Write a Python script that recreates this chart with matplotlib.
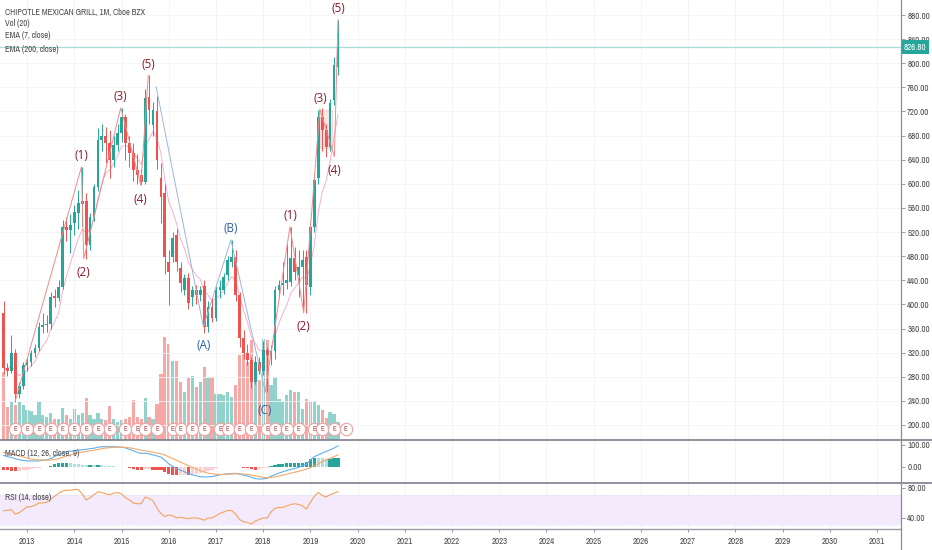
import numpy as np
import pandas as pd
import matplotlib
matplotlib.use("Agg")
import matplotlib.pyplot as plt
from matplotlib.patches import Rectangle
from matplotlib.lines import Line2D
from matplotlib import font_manager

# шрифт: узкий, как на TradingView (если есть), иначе Open Sans
names = [f.name for f in font_manager.fontManager.ttflist]
narrow = [nm for nm in names if 'Narrow' in nm or 'Condensed' in nm]
UI = narrow[0] if narrow else 'Open Sans'
plt.rcParams['font.family'] = [UI, 'DejaVu Sans']

# месячные свечи CMG, 2012-07 .. 2019-08
start_month = '2012-07'
opens = [385, 294, 290, 319, 252, 264, 299, 305, 319, 328,
         363, 366, 368, 414, 410, 429, 528, 523, 535, 552,
         566, 571, 499, 545, 595, 673, 679, 668, 640, 665,
         684, 711, 667, 651, 623, 614, 603, 744, 698, 720,
         610, 585, 470, 479, 515, 460, 424, 444, 412, 424,
         416, 430, 362, 396, 377, 424, 424, 449, 470, 479,
         416, 344, 319, 308, 272, 305, 289, 324, 316, 323,
         424, 432, 435, 437, 477, 449, 462, 479, 429, 528,
         609, 711, 689, 661, 739, 794]
highs = [405, 302, 350, 326, 272, 304, 312, 325, 335, 370,
         385, 382, 420, 425, 440, 540, 545, 550, 565, 590,
         628, 585, 552, 600, 693, 700, 695, 690, 680, 700,
         726, 716, 680, 668, 650, 625, 758, 780, 735, 745,
         634, 600, 490, 520, 525, 470, 450, 452, 430, 432,
         430, 440, 405, 410, 430, 440, 452, 480, 507, 490,
         420, 358, 335, 312, 315, 312, 340, 330, 333, 430,
         440, 470, 500, 528, 495, 490, 490, 490, 535, 612,
         722, 726, 700, 740, 810, 872]
lows = [285, 282, 286, 238, 244, 260, 290, 298, 312, 322,
        352, 355, 360, 395, 405, 425, 505, 485, 515, 525,
        530, 475, 490, 538, 588, 655, 635, 610, 628, 655,
        670, 640, 628, 605, 600, 598, 600, 700, 680, 625,
        535, 450, 399, 470, 455, 420, 415, 392, 398, 400,
        405, 352, 355, 370, 372, 410, 418, 440, 462, 405,
        330, 310, 300, 262, 268, 285, 283, 255, 300, 310,
        410, 415, 425, 430, 440, 412, 394, 386, 415, 520,
        600, 655, 645, 655, 730, 780]
closes = [294, 290, 319, 252, 264, 299, 305, 319, 328, 363,
          366, 368, 412, 410, 429, 528, 523, 532, 553, 568,
          571, 499, 545, 595, 673, 679, 668, 640, 665, 684,
          711, 667, 651, 623, 614, 603, 742, 722, 722, 640,
          578, 479, 454, 510, 470, 435, 444, 402, 424, 416,
          424, 362, 396, 377, 424, 429, 445, 474, 479, 416,
          344, 319, 308, 272, 305, 289, 324, 316, 323, 424,
          432, 435, 440, 477, 454, 462, 474, 432, 528, 606,
          711, 689, 661, 734, 797, 826.8]
volumes = [13.6, 6.6, 7.6, 7.0, 7.6, 7.0, 6.0, 5.8, 5.0, 7.6,
           5.0, 4.6, 5.4, 4.2, 4.2, 6.4, 5.0, 4.2, 6.2, 5.0,
           5.4, 8.4, 5.0, 4.2, 5.4, 4.2, 4.0, 6.8, 4.2, 3.6,
           4.0, 4.2, 4.6, 8.0, 4.6, 4.2, 8.4, 4.6, 4.2, 7.2,
           13.2, 20.6, 19.2, 15.8, 15.8, 11.6, 9.6, 12.6, 12.8, 10.6,
           11.6, 14.6, 12.6, 12.6, 9.2, 9.2, 9.0, 9.6, 8.6, 11.0,
           17.0, 18.0, 15.6, 20.0, 14.0, 12.0, 20.2, 20.0, 11.0, 12.6,
           8.2, 7.6, 9.0, 10.0, 9.6, 9.6, 6.2, 8.2, 7.8, 7.8,
           7.0, 6.0, 4.4, 5.6, 5.2, 3.6]

# индикаторы
macd = [52, 47, 43, 37, 33, 30, 28, 27, 27, 28,
        30, 32, 38, 48, 56, 63, 70, 72, 74, 76,
        78, 80, 83, 85, 90, 92, 92, 92, 92, 91,
        90, 87, 80, 74, 66, 62, 62, 60, 55, 50,
        45, 30, 14, 3, -8, -15, -22, -30, -36, -40,
        -44, -46, -45, -44, -40, -36, -33, -31, -30, -29,
        -33, -37, -41, -47, -53, -55, -54, -52, -42, -35,
        -28, -22, -16, -11, -7, -2, 5, 12, 32, 47,
        55, 63, 70, 78, 86, 96]
signal = [66, 63, 60, 55, 50, 45, 40, 36, 33, 32,
          31, 31, 32, 34, 38, 44, 50, 55, 60, 64,
          67, 70, 73, 76, 79, 83, 86, 88, 89, 90,
          90, 89, 87, 84, 80, 76, 73, 70, 67, 63,
          60, 54, 46, 38, 30, 22, 14, 6, -2, -10,
          -17, -23, -28, -31, -33, -34, -34, -33, -32, -31,
          -31, -32, -34, -37, -40, -44, -47, -49, -48, -45,
          -41, -37, -33, -28, -24, -20, -15, -10, -3, 6,
          15, 24, 32, 40, 47, 55]
rsi = [49.5, 50.5, 51, 45, 47, 51, 55, 55, 57, 60,
       60, 61, 65, 69, 73, 76, 77, 77, 78, 78,
       72, 64, 67, 71, 75, 74, 72, 71, 73, 74,
       72, 67, 64, 60, 59, 59, 68, 66, 63, 53,
       46, 42, 44, 43, 40, 41, 40, 39, 40, 40,
       39, 37, 40, 40, 43, 46, 48, 50, 50, 45,
       38, 35, 34, 32, 36, 38, 40, 40, 48, 53,
       54, 54, 56, 58, 59, 58, 56, 52, 61, 69,
       74, 70, 68, 71, 73, 75]

# отчёты (E)
earnings = ['2012-10', '2013-01', '2013-04', '2013-07', '2013-10', '2014-01', '2014-04',
            '2014-07', '2014-10', '2015-02', '2015-05', '2015-07', '2015-10', '2016-02',
            '2016-04', '2016-07', '2016-10', '2017-02', '2017-04', '2017-07', '2017-10',
            '2018-02', '2018-04', '2018-07', '2018-10', '2019-02', '2019-04', '2019-07',
            '2019-10']

# волны Эллиотта (индекс месяца, цена)
wave1_x = [3, 19.8, 20.4, 29.8, 34.9, 36.8]
wave1_y = [240, 628, 476, 726, 598, 780]
wave1_lab = ['', '(1)', '(2)', '(3)', '(4)', '(5)']
abc_x = [38.8, 50.8, 57.8, 66.5]
abc_y = [761, 363, 507, 255]
abc_lab = ['', '(A)', '(B)', '(C)']
wave2_x = [66.5, 72.8, 76.3, 80.4, 84.1, 85.0]
wave2_y = [255, 529, 386, 724, 645, 872]
wave2_lab = ['', '(1)', '(2)', '(3)', '(4)', '(5)']

last_price = 826.80
years = list(range(2013, 2032))

# ---------------------------------------------------------------
GREEN = '#26a69a'
RED = '#ef5350'
TXT = '#4a4a4a'
LINE = '#8a8e99'

n = len(closes)
x = np.arange(n)
opens_a = np.array(opens, float)
closes_a = np.array(closes, float)
up = closes_a >= opens_a
cols = np.where(up, GREEN, RED)

p0 = pd.Period(start_month, 'M')
def midx(s):
    return (pd.Period(s, 'M') - p0).n

year_pos = [midx(f'{y}-01') for y in years]

W, H = 932, 550
fig = plt.figure(figsize=(W / 100, H / 100), dpi=100)
fig.patch.set_facecolor('white')
right = 901 / W
xlim = (-0.89, 228.1)

# размер шрифта подбираем по ширине подписи на оригинале
def fit_size(text, target_px, base=7.0):
    t = fig.text(0, 0, text, fontsize=base)
    w = t.get_window_extent(renderer=fig.canvas.get_renderer()).width
    t.remove()
    return base * target_px / w

FS_TITLE = fit_size('CHIPOTLE MEXICAN GRILL, 1M, Cboe BZX', 140)
FS_TICK = min(fit_size('880.00', 22), FS_TITLE * 1.05)
FS_LEG = FS_TITLE

def rect(top, bottom):
    return [0, 1 - bottom / H, right, (bottom - top) / H]

def style_axis(a):
    for s in a.spines.values():
        s.set_visible(False)
    a.yaxis.tick_right()
    a.tick_params(axis='y', length=3, width=0.6, color=LINE, labelsize=FS_TICK,
                  labelcolor=TXT, pad=1.5)
    a.tick_params(axis='x', bottom=False, labelbottom=False)
    a.set_xlim(*xlim)
    for yp in year_pos:
        a.axvline(yp, color='#f2f2f5', lw=0.6, zorder=0)

# объём (под свечами)
axv = fig.add_axes(rect(0, 440))
axv.set_xlim(*xlim)
axv.set_ylim(0, 88)
axv.axis('off')
axv.bar(x, volumes, width=0.82, color=cols, alpha=0.5, linewidth=0)

# цена
ax = fig.add_axes(rect(0, 440))
ax.patch.set_alpha(0)
style_axis(ax)
ax.set_ylim(175.1, 904.9)
pt = np.arange(200, 881, 40)
ax.set_yticks(pt)
ax.set_yticklabels([f'{v:.2f}' for v in pt])
for v in pt:
    ax.axhline(v, color='#f4f4f7', lw=0.6, zorder=0)

ax.axhline(last_price, color='#a8dcd6', lw=0.9, zorder=1)

ema7 = pd.Series(closes_a).ewm(span=7, adjust=False).mean()
ax.plot(x, ema7, color='#f48fb1', lw=0.6, alpha=0.8, zorder=2)

ax.vlines(x, lows, highs, color=cols, lw=0.7, zorder=3)
ax.bar(x, closes_a - opens_a, bottom=opens_a, width=0.7, color=cols,
       linewidth=0, zorder=4)

# прямоугольник между (3) и (4)
ax.add_patch(Rectangle((80.5, 659), 3.0, 63, facecolor='#ef9a9a', alpha=0.25,
                       edgecolor='#e57373', lw=0.6, zorder=2))

def draw_wave(xs, ys, labs, lcol, tcol, down_off):
    ax.plot(xs, ys, color=lcol, lw=0.7, zorder=5)
    for i in range(1, len(xs)):
        peak = ys[i] > ys[i - 1]
        off = 11 if peak else -down_off
        ax.annotate(labs[i], (xs[i], ys[i]), xytext=(0, off),
                    textcoords='offset pixels', ha='center', va='center',
                    fontsize=8.5, color=tcol, zorder=6,
                    family=['Open Sans', 'DejaVu Sans'])

draw_wave(wave1_x, wave1_y, wave1_lab, '#ef8a8a', '#8b1a2b', 14)
draw_wave(abc_x, abc_y, abc_lab, '#9fb4d6', '#2f5f9e', 19)
draw_wave(wave2_x, wave2_y, wave2_lab, '#ef8a8a', '#8b1a2b', 14)

# E-кружки
ex = [midx(s) for s in earnings]
xt = ax.get_xaxis_transform()
ax.scatter(ex, [0.025] * len(ex), transform=xt, s=80, facecolor='white',
           edgecolor='#f0a0a0', lw=0.8, zorder=7, clip_on=False)
for e in ex:
    ax.text(e, 0.025, 'E', transform=xt, ha='center', va='center',
            fontsize=5, color='#b03a3a', zorder=8)

# последняя цена
ax.text(1.003, last_price, f'{last_price:.2f}', transform=ax.get_yaxis_transform(),
        ha='left', va='center', fontsize=FS_TICK, color='white', zorder=10, clip_on=False,
        bbox=dict(boxstyle='square,pad=0.3', facecolor=GREEN, edgecolor='none'))

# MACD
axm = fig.add_axes(rect(441, 483))
style_axis(axm)
axm.set_ylim(-73, 118)
axm.set_yticks([0, 100])
axm.set_yticklabels(['0.00', '100.00'])
hist = np.array(macd, float) - np.array(signal, float)
hcols = []
for i, h in enumerate(hist):
    prev = hist[i - 1] if i > 0 else h
    if h >= 0:
        hcols.append('#26a69a' if h >= prev else '#b2dfdb')
    else:
        hcols.append('#ffcdd2' if h > prev else '#ef5350')
axm.bar(x, hist, width=0.82, color=hcols, linewidth=0, zorder=2)
axm.plot(x, macd, color='#5fb0e8', lw=0.8, zorder=3)
axm.plot(x, signal, color='#f5a96a', lw=0.8, zorder=3)

# RSI
axr = fig.add_axes(rect(484, 529))
style_axis(axr)
axr.set_ylim(25.3, 85.3)
axr.set_yticks([40, 80])
axr.set_yticklabels(['40.00', '80.00'])
axr.axhspan(30, 70, color='#f3eafb', zorder=0, lw=0)
axr.axhline(70, color='#d9d0e4', lw=0.5, ls=(0, (1, 2)), zorder=1)
axr.axhline(30, color='#d9d0e4', lw=0.5, ls=(0, (1, 2)), zorder=1)
axr.plot(x, rsi, color='#f6a25e', lw=0.8, zorder=3)
axr.tick_params(axis='x', bottom=True, labelbottom=True, length=2.5, width=0.6,
                color=LINE, labelsize=FS_TICK, labelcolor=TXT, pad=3)
axr.set_xticks(year_pos)
axr.set_xticklabels([str(y) for y in years])

# подписи индикаторов
fig.text(5 / W, 1 - 12 / H, 'CHIPOTLE MEXICAN GRILL, 1M, Cboe BZX', fontsize=FS_TITLE,
         color=TXT, va='center')
for yy, t in [(24, 'Vol (20)'), (36, 'EMA (7, close)'), (49, 'EMA (200, close)')]:
    fig.text(5 / W, 1 - yy / H, t, fontsize=FS_LEG, color=TXT, va='center')
fig.text(5 / W, 1 - 453 / H, 'MACD (12, 26, close, 9)', fontsize=FS_LEG, color=TXT, va='center')
fig.text(5 / W, 1 - 497 / H, 'RSI (14, close)', fontsize=FS_LEG, color=TXT, va='center')

# разделители панелей и ось цен
for yy in (440, 483):
    fig.add_artist(Line2D([0, 1], [1 - yy / H] * 2, transform=fig.transFigure,
                          color='#7b7f8a', lw=1.2))
fig.add_artist(Line2D([0, right], [1 - 529 / H] * 2, transform=fig.transFigure,
                      color='#9a9ea8', lw=1.0))
fig.add_artist(Line2D([right, right], [0, 1], transform=fig.transFigure,
                      color='#8a8e99', lw=0.9))

fig.savefig('out.png', dpi=100, facecolor='white')
